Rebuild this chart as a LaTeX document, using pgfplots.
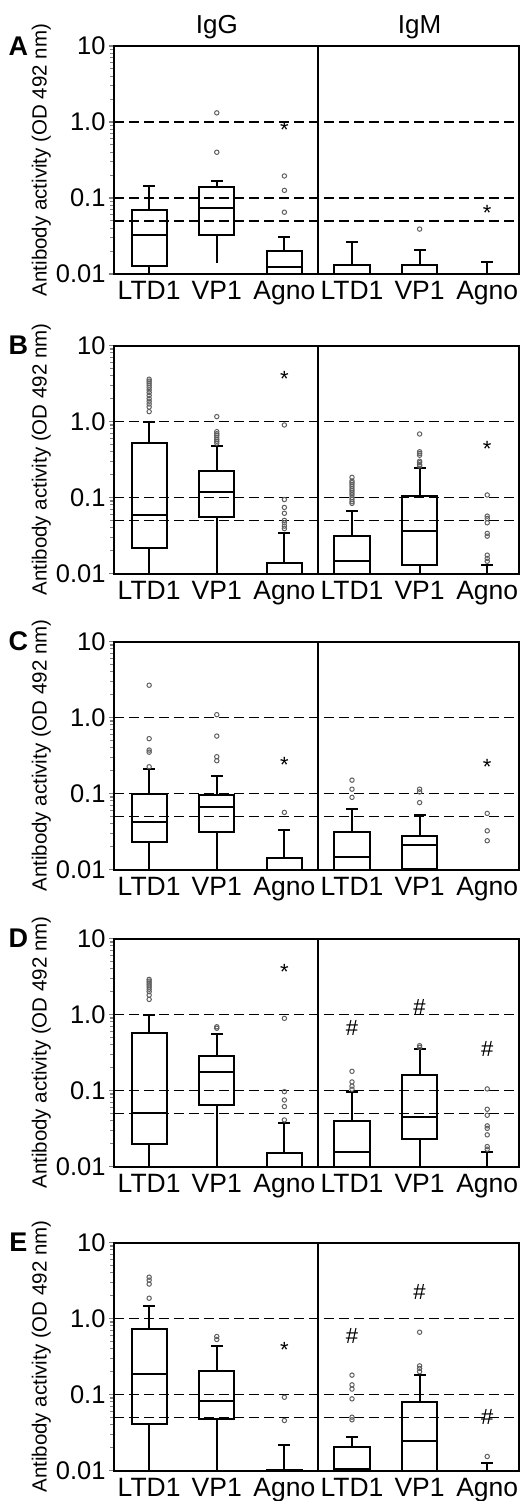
\documentclass[border=0pt]{standalone}
\usepackage{fontspec}
\setmainfont{Liberation Sans}
\usepackage{pgfplots}
\pgfplotsset{compat=1.18}

\pgfplotsset{
  bst/.style={black, line width=2pt, line cap=rect, mark=none},
  ost/.style={only marks, mark=o, mark size=2.2pt, mark options={draw=gray!75!black, line width=1pt, solid}}
}
\newcommand{\startax}[2][]{%
\begin{axis}[at={(114pt,#2)}, anchor=south west,
    scale only axis, width=405pt, height=228pt,
    ymode=log, ymin=0.01, ymax=10,
    xmin=-0.52, xmax=5.47,
    clip mode=individual,
    xtick={0,1,2,3,4,5}, xticklabels={LTD1,VP1,Agno,LTD1,VP1,Agno},
    ytick={0.01,0.1,1,10}, yticklabels={0.01,0.1,1.0,10},
    x tick label style={font=\fontsize{26.5}{30}\selectfont, yshift=1pt},
    y tick label style={font=\fontsize{25.5}{30}\selectfont},
    major x tick style={draw=none},
    ytick pos=left, xtick pos=left,
    tick align=outside,
    major tick length=5pt, minor tick length=3.5pt,
    tick style={line width=1.2pt},
    axis line style={line width=2pt},
    ylabel={Antibody activity (OD 492 nm)},
    ylabel style={at={(axis description cs:-0.1794,0.5)}, anchor=center, font=\fontsize{20.5}{24}\selectfont},
    #1]}
% box: position, lower whisker, lower quartile, median, upper quartile, upper whisker
\newcommand{\bp}[6]{%
 \pgfmathsetmacro\xl{#1-0.26}\pgfmathsetmacro\xr{#1+0.26}%
 \pgfmathsetmacro\capL{#1-0.075}\pgfmathsetmacro\capR{#1+0.075}%
 \edef\mytmp{%
  \noexpand\addplot[bst] coordinates {(#1,#2) (#1,#3)};
  \noexpand\addplot[bst] coordinates {(#1,#5) (#1,#6)};
  \noexpand\addplot[bst] coordinates {(\capL,#6) (\capR,#6)};
  \noexpand\addplot[bst] coordinates {(\xl,#3) (\xr,#3) (\xr,#5) (\xl,#5) (\xl,#3)};
  \noexpand\addplot[bst] coordinates {(\xl,#4) (\xr,#4)};
 }\mytmp}
\newcommand{\refl}{%
  \addplot[black, line width=1.6pt, dash pattern=on 10pt off 5pt] coordinates {(-0.52,1) (5.47,1)};
  \addplot[black, line width=1.6pt, dash pattern=on 10pt off 5pt] coordinates {(-0.52,0.1) (5.47,0.1)};
  \addplot[black, line width=1.6pt, dash pattern=on 10pt off 5pt] coordinates {(-0.52,0.05) (5.47,0.05)};
  \addplot[black, line width=2pt] coordinates {(2.5,0.01) (2.5,10)};
}
\newcommand{\lett}[1]{\node[font=\fontsize{27}{30}\selectfont\bfseries] at (axis description cs:-0.236,1) {#1};}
\newcommand{\ann}[3]{\node[font=\fontsize{22}{24}\selectfont] at (axis cs:#1,#2) {#3};}

\begin{document}
\begin{tikzpicture}
\path[use as bounding box] (0,0) rectangle (521pt,-1501pt);

% ---------------- A
\startax{-274pt}
\refl
\bp{0}{0.004}{0.0128}{0.0323}{0.069}{0.146}
\bp{1}{0.0146}{0.0323}{0.074}{0.139}{0.165}
\bp{2}{0.004}{0.005}{0.0122}{0.0201}{0.031}
\bp{3}{0.004}{0.005}{0.005}{0.0132}{0.0264}
\bp{4}{0.004}{0.005}{0.005}{0.0132}{0.0206}
\bp{5}{0.004}{0.005}{0.005}{0.005}{0.0142}
\addplot[ost] coordinates {(1,1.32) (1,0.40) (2,0.195) (2,0.126) (2,0.065) (4,0.039)};
\ann{2}{0.78}{*}
\ann{5}{0.064}{*}
\lett{A}
\node[font=\fontsize{26}{30}\selectfont] at (axis cs:1,10) [yshift=19pt] {IgG};
\node[font=\fontsize{26}{30}\selectfont] at (axis cs:4,10) [yshift=19pt] {IgM};
\end{axis}

% ---------------- B
\startax{-573.5pt}
\refl
\bp{0}{0.004}{0.0218}{0.0587}{0.527}{1.0}
\bp{1}{0.004}{0.0547}{0.118}{0.225}{0.48}
\bp{2}{0.004}{0.005}{0.005}{0.0138}{0.0337}
\bp{3}{0.004}{0.005}{0.01454}{0.031}{0.0663}
\bp{4}{0.004}{0.0131}{0.0365}{0.1045}{0.242}
\bp{5}{0.004}{0.005}{0.005}{0.005}{0.0129}
\addplot[ost] coordinates {(0,3.6) (0,3.4) (0,3.2) (0,3.0) (0,2.8) (0,2.6) (0,2.4) (0,2.2) (0,2.0) (0,1.85) (0,1.7) (0,1.55) (0,1.35)
 (1,1.16) (1,0.735) (1,0.69) (1,0.66) (1,0.62) (1,0.58) (1,0.55) (1,0.52)
 (2,0.90) (2,0.094) (2,0.074) (2,0.062) (2,0.05) (2,0.0465) (2,0.042) (2,0.039)
 (3,0.184) (3,0.165) (3,0.157) (3,0.148) (3,0.139) (3,0.13) (3,0.123) (3,0.115) (3,0.108) (3,0.1) (3,0.094) (3,0.088) (3,0.0836)
 (4,0.685) (4,0.40) (4,0.38) (4,0.36) (4,0.30) (4,0.287) (4,0.27) (4,0.26)
 (5,0.108) (5,0.0569) (5,0.053) (5,0.0465) (5,0.0337) (5,0.031) (5,0.01744) (5,0.0158) (5,0.0145)};
\ann{2}{3.6}{*}
\ann{5}{0.44}{*}
\lett{B}
\end{axis}

% ---------------- C
\startax{-869.5pt}
\refl
\bp{0}{0.004}{0.0231}{0.0425}{0.1}{0.212}
\bp{1}{0.004}{0.031}{0.067}{0.0944}{0.17}
\bp{2}{0.004}{0.005}{0.005}{0.01425}{0.033}
\bp{3}{0.004}{0.005}{0.0147}{0.031}{0.0617}
\bp{4}{0.004}{0.0101}{0.0209}{0.028}{0.052}
\addplot[ost] coordinates {(0,2.66) (0,0.527) (0,0.373) (0,0.35) (0,0.225)
 (1,1.09) (1,0.57) (1,0.305) (1,0.27)
 (2,0.0564)
 (3,0.15) (3,0.114) (3,0.089)
 (4,0.114) (4,0.105) (4,0.076)
 (5,0.0547) (5,0.0323) (5,0.0239)};
\ann{2}{0.237}{*}
\ann{5}{0.226}{*}
\lett{C}
\end{axis}

% ---------------- D
\startax{-1166.5pt}
\refl
\bp{0}{0.004}{0.0197}{0.0502}{0.565}{1.0}
\bp{1}{0.004}{0.064}{0.1737}{0.288}{0.553}
\bp{2}{0.004}{0.005}{0.005}{0.015}{0.037}
\bp{3}{0.004}{0.005}{0.01575}{0.0394}{0.0957}
\bp{4}{0.004}{0.0233}{0.0454}{0.16}{0.352}
\bp{5}{0.004}{0.005}{0.005}{0.005}{0.0153}
\addplot[ost] coordinates {(0,2.9) (0,2.75) (0,2.6) (0,2.45) (0,2.3) (0,2.15) (0,2.0) (0,1.8) (0,1.58)
 (1,0.69) (1,0.66)
 (2,0.89) (2,0.0967) (2,0.075) (2,0.0615) (2,0.041)
 (3,0.179) (3,0.1296) (3,0.114) (3,0.104)
 (4,0.389) (4,0.37)
 (5,0.105) (5,0.0567) (5,0.0473) (5,0.0343) (5,0.0318) (5,0.0261) (5,0.0183) (5,0.0169)};
\ann{2}{3.65}{*}
\ann{3}{0.66}{\#}
\ann{4}{1.26}{\#}
\ann{5}{0.348}{\#}
\lett{D}
\end{axis}

% ---------------- E
\startax{-1470.5pt}
\refl
\bp{0}{0.004}{0.0411}{0.187}{0.739}{1.48}
\bp{1}{0.004}{0.0483}{0.0826}{0.207}{0.44}
\bp{2}{0.004}{0.005}{0.005}{0.0102}{0.0215}
\bp{3}{0.004}{0.005}{0.0105}{0.0207}{0.028}
\bp{4}{0.004}{0.005}{0.0248}{0.079}{0.178}
\bp{5}{0.004}{0.005}{0.005}{0.005}{0.0125}
\addplot[ost] coordinates {(0,3.5) (0,3.2) (0,2.84) (0,1.85)
 (1,0.58) (1,0.53)
 (2,0.092) (2,0.0455)
 (3,0.18) (3,0.134) (3,0.118) (3,0.0877) (3,0.0503) (3,0.0465)
 (4,0.66) (4,0.238) (4,0.22) (4,0.2)
 (5,0.0153)};
\ann{2}{0.387}{*}
\ann{3}{0.59}{\#}
\ann{4}{2.22}{\#}
\ann{5}{0.0513}{\#}
\lett{E}
\end{axis}
\end{tikzpicture}
\end{document}
